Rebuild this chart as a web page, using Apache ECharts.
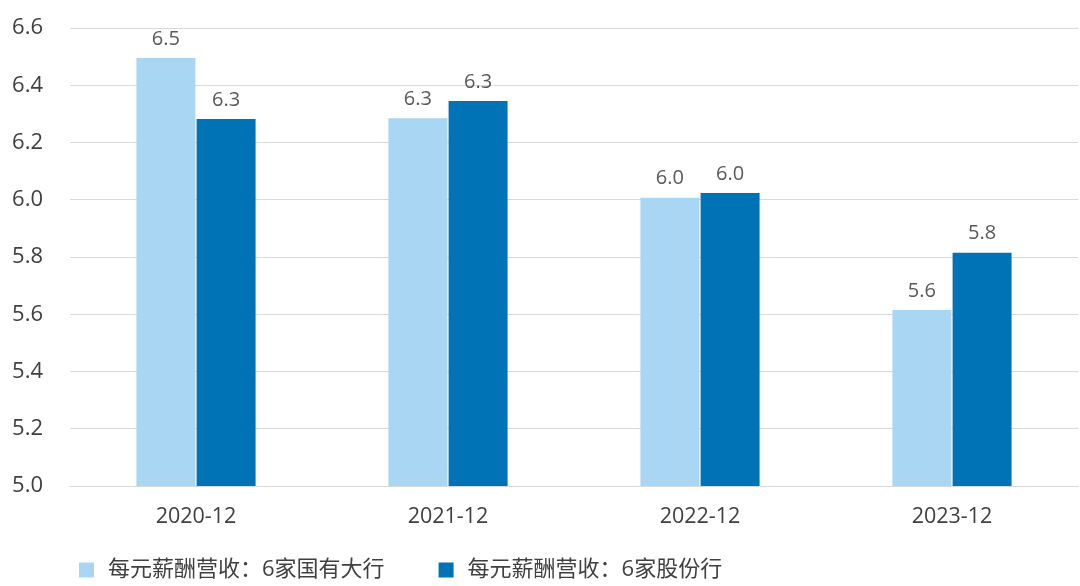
<!DOCTYPE html>
<html><head><meta charset="utf-8">
<script src="https://cdn.jsdelivr.net/npm/echarts@6/dist/echarts.min.js"></script>
<style>html,body{margin:0;padding:0;background:#fff}#c{width:1080px;height:586px}</style>
</head><body><div id="c"></div>
<script>
const categories = ['2020-12','2021-12','2022-12','2023-12'];
const seriesNames = ['每元薪酬营收：6家国有大行','每元薪酬营收：6家股份行'];
const stateOwned = [6.495, 6.285, 6.007, 5.615];
const jointStock = [6.282, 6.345, 6.024, 5.815];
const yTicks = {min: 5.0, max: 6.6, interval: 0.2};

const font = '"Open Sans","Noto Sans CJK SC",sans-serif';
const chart = echarts.init(document.getElementById('c'));
const labelCfg = {show:true, position:'top', distance:9, color:'#595959', fontSize:20, fontFamily:font,
  formatter: p => p.value.toFixed(1)};
chart.setOption({
  animation:false,
  grid:{left:70, right:2, top:28, bottom:100},
  legend:{bottom:0, left:74, itemWidth:15, itemHeight:15, itemGap:54, icon:'rect',
    textStyle:{fontSize:22, color:'#404040', fontFamily:font, padding:[0,0,0,9]},
    data: seriesNames},
  xAxis:{type:'category', data:categories,
    axisLine:{lineStyle:{color:'#d9d9d9'}}, axisTick:{show:false},
    axisLabel:{fontSize:21.5, color:'#404040', fontFamily:font, margin:20}},
  yAxis:{type:'value', min:yTicks.min, max:yTicks.max, interval:yTicks.interval,
    axisLine:{show:false}, axisTick:{show:false},
    splitLine:{lineStyle:{color:'#d9d9d9'}},
    axisLabel:{fontSize:22, color:'#404040', fontFamily:font, margin:27, formatter:v=>v.toFixed(1)}},
  series:[
    {name:seriesNames[0], type:'bar', data:stateOwned, barWidth:59, barGap:'2%',
      itemStyle:{color:'#a9d6f3'}, label:labelCfg},
    {name:seriesNames[1], type:'bar', data:jointStock, barWidth:59,
      itemStyle:{color:'#0073b6'}, label:labelCfg}
  ]
});
</script></body></html>
